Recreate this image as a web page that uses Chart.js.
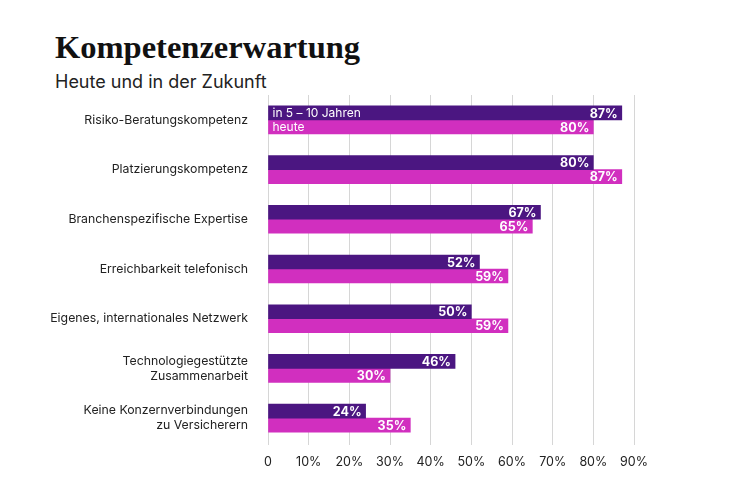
<!DOCTYPE html>
<html>
<head>
<meta charset="utf-8">
<script src="https://cdn.jsdelivr.net/npm/chart.js@4"></script>
<style>
  html, body { margin: 0; padding: 0; background: #fff; }
  #wrap { position: relative; width: 750px; height: 504px; }
  #title { position: absolute; left: 55px; top: 29px; font: bold 32.5px 'Liberation Serif', serif; color: #111; }
  #sub { position: absolute; left: 55px; top: 71px; font: 18px Inter, sans-serif; color: #222; }
  canvas { position: absolute; left: 0; top: 0; }
</style>
</head>
<body>
<div id="wrap">
  <div id="title">Kompetenzerwartung</div>
  <div id="sub">Heute und in der Zukunft</div>
  <canvas id="c" width="750" height="504"></canvas>
</div>
<script>
// ── data ──
const CATEGORIES = [
  'Risiko-Beratungskompetenz',
  'Platzierungskompetenz',
  'Branchenspezifische Expertise',
  'Erreichbarkeit telefonisch',
  'Eigenes, internationales Netzwerk',
  ['Technologiegestützte', 'Zusammenarbeit'],
  ['Keine Konzernverbindungen', 'zu Versicherern']
];
const FUTURE = [87, 80, 67, 52, 50, 46, 24];   // in 5 – 10 Jahren
const TODAY  = [80, 87, 65, 59, 59, 30, 35];   // heute
const SERIES_NAMES = ['in 5 – 10 Jahren', 'heute'];
const X_TICKS = [0, 10, 20, 30, 40, 50, 60, 70, 80, 90];

const PURPLE = '#4b1681', PINK = '#d12fbf';
const FONT = 'Inter, sans-serif';

// value labels inside bar ends + series names in the first row
const barLabels = {
  id: 'barLabels',
  afterDatasetsDraw(chart) {
    const ctx = chart.ctx;
    ctx.save();
    ctx.fillStyle = '#fff';
    ctx.textBaseline = 'middle';
    chart.data.datasets.forEach((ds, di) => {
      chart.getDatasetMeta(di).data.forEach((bar, i) => {
        ctx.font = `bold 12.5px ${FONT}`;
        ctx.textAlign = 'right';
        ctx.fillText(ds.data[i] + '%', bar.x - 4, bar.y + 1);
        if (i === 0) {
          ctx.font = `12px ${FONT}`;
          ctx.textAlign = 'left';
          ctx.fillText(ds.label, bar.base + 4, bar.y + 1);
        }
      });
    });
    ctx.restore();
  }
};

new Chart(document.getElementById('c'), {
  type: 'bar',
  data: {
    labels: CATEGORIES,
    datasets: [
      { label: SERIES_NAMES[0], data: FUTURE, backgroundColor: PURPLE },
      { label: SERIES_NAMES[1], data: TODAY, backgroundColor: PINK }
    ]
  },
  options: {
    indexAxis: 'y',
    responsive: false,
    animation: false,
    barThickness: 14,
    layout: { padding: { left: 0, right: 116, top: 95, bottom: 21 } },
    plugins: { legend: { display: false }, tooltip: { enabled: false } },
    scales: {
      x: {
        min: 0, max: 90,
        afterBuildTicks: s => { s.ticks = X_TICKS.map(v => ({ value: v })); },
        afterFit: s => { s.height = 40; },
        ticks: {
          color: '#222', font: { family: FONT, size: 12.5 }, padding: 10,
          callback: v => v === 0 ? '0' : v + '%'
        },
        grid: { color: '#d6d6d6', drawTicks: true, tickLength: 2, lineWidth: 1 },
        border: { display: false }
      },
      y: {
        afterFit: s => { s.width = 268; },
        ticks: { color: '#222', font: { family: FONT, size: 12.3 }, padding: 12, crossAlign: 'near' },
        grid: { display: false },
        border: { display: false }
      }
    }
  },
  plugins: [barLabels]
});
</script>
</body>
</html>
